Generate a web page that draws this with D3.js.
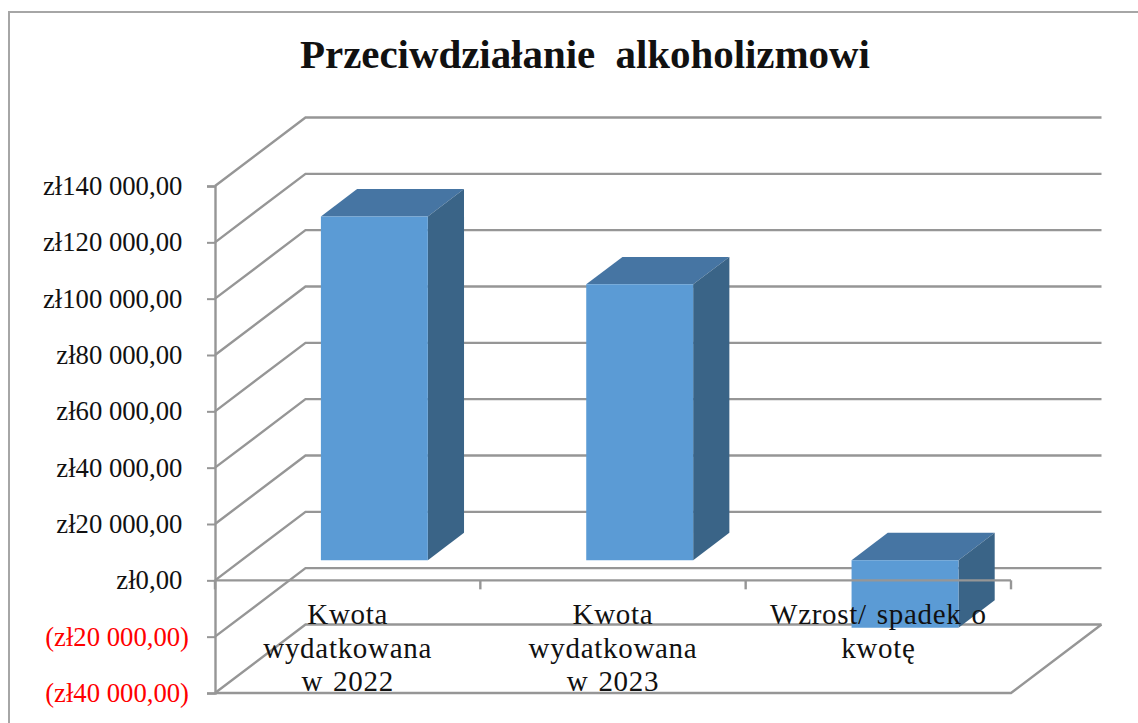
<!DOCTYPE html>
<html>
<head>
<meta charset="utf-8">
<script src="https://cdn.jsdelivr.net/npm/d3@7"></script>
<style>
    html, body { margin: 0; padding: 0; background: #fff; overflow: hidden; }
    svg { display: block; }
    text { font-family: "Liberation Serif", serif; fill: #111; }
</style>
</head>
<body>
<div id="container"></div>
<script>
const chartTitle = "Przeciwdziałanie  alkoholizmowi";
const categories = ["Kwota wydatkowana w 2022", "Kwota wydatkowana w 2023", "Wzrost/ spadek o kwotę"];
const categoryLines = [
    ["Kwota", "wydatkowana", "w 2022"],
    ["Kwota", "wydatkowana", "w 2023"],
    ["Wzrost/ spadek o", "kwotę"]
];
const values = [122000, 97900, -24000];
const tickValues = [140000, 120000, 100000, 80000, 60000, 40000, 20000, 0, -20000, -40000];
const tickLabels = ["zł140 000,00\u00a0", "zł120 000,00\u00a0", "zł100 000,00\u00a0", "zł80 000,00\u00a0", "zł60 000,00\u00a0",
    "zł40 000,00\u00a0", "zł20 000,00\u00a0", "zł0,00\u00a0", "(zł20 000,00)", "(zł40 000,00)"];

const gridColor = "#969696";
const frontColor = "#5b9bd5";
const topColor = "#4675a3";
const sideColor = "#3a6487";

const svg = d3.select("#container").append("svg")
    .attr("width", 1138)
    .attr("height", 723);

// outer chart frame, runs off the right and bottom of the picture
svg.append("rect")
    .attr("x", 9).attr("y", 12)
    .attr("width", 1200).attr("height", 800)
    .attr("fill", "#fff")
    .attr("stroke", "#a6a6a6")
    .attr("stroke-width", 2);

svg.append("text")
    .attr("x", 585).attr("y", 68)
    .attr("text-anchor", "middle")
    .attr("font-size", 41)
    .attr("font-weight", "bold")
    .style("white-space", "pre")
    .attr("textLength", 570)
    .text(chartTitle);

const y = d3.scaleLinear().domain([-40000, 140000]).range([693, 186]);
const x = d3.scaleBand().domain(categories).range([215, 1011]);

// depth of the 3d box, 0 = front, 1 = back wall
const depthX = d3.scaleLinear().domain([0, 1]).range([0, 90.5]);
const depthY = d3.scaleLinear().domain([0, 1]).range([0, -68.5]);
const project = (px, py, d) => [px + depthX(d), py + depthY(d)];
const line = d3.line();

const barWidth = x.bandwidth() * 0.403;
const barFront = 0.295, barBack = 0.695;

// side wall + back wall gridlines
const walls = svg.append("g")
    .attr("fill", "none")
    .attr("stroke", gridColor)
    .attr("stroke-width", 2.4);

walls.selectAll("path")
    .data(tickValues)
    .enter().append("path")
    .attr("d", d => line([
        [x.range()[0], y(d)],
        project(x.range()[0], y(d), 1),
        project(x.range()[1], y(d), 1)
    ]));

// floor
walls.append("path")
    .attr("d", line([
        project(x.range()[1], y(-40000), 1),
        [x.range()[1], y(-40000)],
        [x.range()[0], y(-40000)]
    ]));

// bars
const bars = svg.append("g").selectAll("g")
    .data(categories)
    .enter().append("g");

const barBox = (c, i) => {
    const left = x(c) + (x.bandwidth() - barWidth) / 2;
    const top = y(Math.max(values[i], 0));
    const bottom = y(Math.min(values[i], 0));
    return { left, right: left + barWidth, top, bottom };
};

bars.append("path")
    .attr("fill", topColor)
    .attr("d", (c, i) => {
        const b = barBox(c, i);
        return line([
            project(b.left, b.top, barFront), project(b.right, b.top, barFront),
            project(b.right, b.top, barBack), project(b.left, b.top, barBack)
        ]) + "Z";
    });

bars.append("path")
    .attr("fill", sideColor)
    .attr("d", (c, i) => {
        const b = barBox(c, i);
        return line([
            project(b.right, b.top, barFront), project(b.right, b.top, barBack),
            project(b.right, b.bottom, barBack), project(b.right, b.bottom, barFront)
        ]) + "Z";
    });

bars.append("path")
    .attr("fill", frontColor)
    .attr("d", (c, i) => {
        const b = barBox(c, i);
        return line([
            project(b.left, b.top, barFront), project(b.right, b.top, barFront),
            project(b.right, b.bottom, barFront), project(b.left, b.bottom, barFront)
        ]) + "Z";
    });

// value axis, on top of everything
const yAxis = svg.append("g")
    .attr("transform", `translate(${x.range()[0]},0)`)
    .call(d3.axisLeft(y)
        .tickValues(tickValues)
        .tickSize(8)
        .tickPadding(18)
        .tickFormat((d, i) => tickLabels[i]));

yAxis.select(".domain")
    .attr("stroke", gridColor).attr("stroke-width", 2.4);
yAxis.selectAll(".tick line")
    .attr("stroke", gridColor).attr("stroke-width", 2);
yAxis.selectAll(".tick text")
    .attr("font-size", 26.7)
    .attr("font-family", "Liberation Serif")
    .style("fill", d => d < 0 ? "#ff0000" : "#111");

// category axis sits at zero and crosses the bars
const xAxisEdges = [x.range()[0]].concat(categories.map(c => x(c) + x.bandwidth()));
const zeroAxis = svg.append("g")
    .attr("stroke", gridColor)
    .attr("stroke-width", 2.4)
    .attr("fill", "none");

zeroAxis.append("path")
    .attr("d", line([[x.range()[0], y(0)], [x.range()[1], y(0)]]));

zeroAxis.selectAll("line")
    .data(xAxisEdges)
    .enter().append("line")
    .attr("x1", d => d).attr("x2", d => d)
    .attr("y1", y(0)).attr("y2", y(0) + 9);

// wrapped category labels
const labels = svg.append("g").selectAll("text")
    .data(categories)
    .enter().append("text")
    .attr("text-anchor", "middle")
    .attr("font-size", 29)
    .style("letter-spacing", "0.7px")
    .style("word-spacing", "2px");

labels.selectAll("tspan")
    .data((c, i) => categoryLines[i].map(t => ({ t, c })))
    .enter().append("tspan")
    .attr("x", d => x(d.c) + x.bandwidth() / 2)
    .attr("y", (d, j) => y(0) + 44 + j * 33.2)
    .text(d => d.t);
</script>
</body>
</html>
